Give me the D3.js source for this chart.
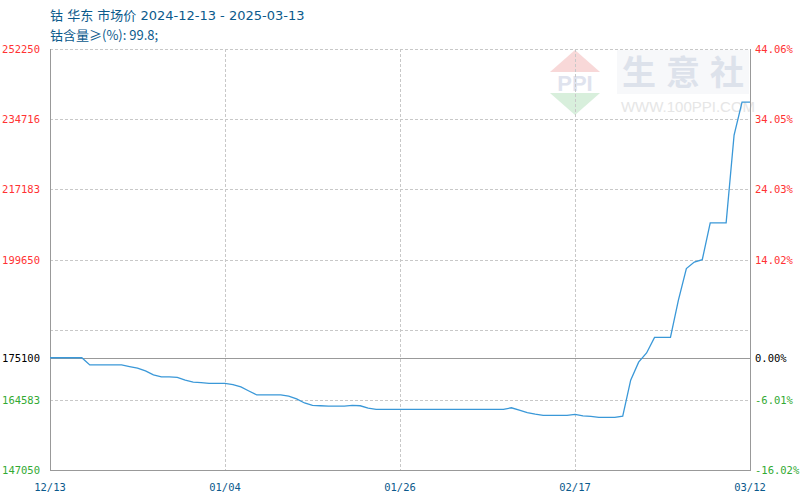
<!DOCTYPE html>
<html>
<head>
<meta charset="utf-8">
<script src="https://cdn.jsdelivr.net/npm/d3@7"></script>
<style>
  html, body { margin: 0; padding: 0; background: #fff; }
  svg { display: block; }
</style>
</head>
<body>
<svg id="chart" width="800" height="500"></svg>
<script>
// ---- data ----
const titleLine1 = "钴 华东 市场价 2024-12-13 - 2025-03-13";
const titleLine2 = "钴含量≥(%): 99.8;";
const baseValue = 175100;
const xTickLabels = ["12/13", "01/04", "01/26", "02/17", "03/12"];
const xTickIndex = [0, 22, 44, 66, 88];
const yTicks = [147050, 164583, 182117, 199650, 217183, 234716, 252250];
const hiddenYTicks = [182117];
const prices = [
  175100, 175100, 175100, 175100, 175100, 173300, 173300, 173300, 173300, 173300,
  172900, 172500, 171800, 170800, 170300, 170300, 170200, 169500, 169000, 168900,
  168700, 168700, 168700, 168400, 167800, 166800, 165800, 165800, 165800, 165800,
  165500, 164800, 163800, 163200, 163100, 163000, 163000, 163000, 163200, 163100,
  162500, 162200, 162200, 162200, 162200, 162200, 162200, 162200, 162200, 162200,
  162200, 162200, 162200, 162200, 162200, 162200, 162200, 162200, 162600, 162000,
  161400, 161000, 160700, 160700, 160700, 160700, 160950, 160600, 160450, 160200,
  160200, 160200, 160500, 169500, 174000, 176300, 180200, 180200, 180200, 189500,
  197400, 199000, 199600, 208800, 208800, 208800, 230750, 239000, 239000
];

// ---- layout ----
const svg = d3.select("#chart");
const pLeft = 50, pRight = 750, pTop = 49, pBottom = 470;

const x = d3.scaleLinear().domain([0, prices.length - 1]).range([pLeft, pRight]);
const y = d3.scaleLinear().domain([yTicks[0], yTicks[yTicks.length - 1]]).range([pBottom, pTop]);

const monoFont = "'DejaVu Sans Mono', monospace";
const red = "#ff3333", green = "#33aa33", blue = "#0b5a8c";

// ---- watermark ----
const wm = svg.append("g");
wm.append("rect").attr("x", 617).attr("y", 50).attr("width", 132).attr("height", 44).attr("fill", "#f7f8fa");
wm.append("path").attr("d", "M550,72 L575,50 L600,72 Z").attr("fill", "#f8d8d8");
wm.append("path").attr("d", "M550,93 L600,93 L575,115 Z").attr("fill", "#d8efdc");
wm.append("text").attr("x", 575).attr("y", 91).attr("text-anchor", "middle")
  .attr("font-family", "'Liberation Sans', Arial, sans-serif").attr("font-weight", "bold").attr("font-size", 22)
  .attr("fill", "#dfe3ee").text("PPI");
wm.append("text").attr("x", 688).attr("y", 85).attr("text-anchor", "middle")
  .attr("font-family", "'Noto Sans CJK SC', sans-serif").attr("font-weight", "bold").attr("font-size", 34)
  .attr("letter-spacing", 10).attr("fill", "#dde2eb").text("生意社");
wm.append("text").attr("x", 688).attr("y", 112).attr("text-anchor", "middle")
  .attr("font-family", "'Liberation Sans', Arial, sans-serif").attr("font-size", 15)
  .attr("fill", "#e6e6e6").text("WWW.100PPI.COM");

// ---- grid ----
const grid = svg.append("g").attr("stroke", "#c8c8c8").attr("stroke-dasharray", "3,2").attr("shape-rendering", "crispEdges");
yTicks.filter(v => v !== yTicks[0]).forEach(v => {
  grid.append("line").attr("x1", pLeft).attr("x2", pRight).attr("y1", Math.round(y(v)) + 0.5).attr("y2", Math.round(y(v)) + 0.5);
});
xTickIndex.slice(1, -1).forEach(i => {
  grid.append("line").attr("x1", Math.round(x(i)) + 0.5).attr("x2", Math.round(x(i)) + 0.5).attr("y1", pTop).attr("y2", pBottom);
});

// ---- axes frame ----
const frame = svg.append("g").attr("stroke", "#999").attr("shape-rendering", "crispEdges");
frame.append("line").attr("x1", pLeft + 0.5).attr("x2", pLeft + 0.5).attr("y1", pTop).attr("y2", pBottom + 1);
frame.append("line").attr("x1", pRight + 0.5).attr("x2", pRight + 0.5).attr("y1", pTop).attr("y2", pBottom + 1);
frame.append("line").attr("x1", pLeft).attr("x2", pRight + 1).attr("y1", pBottom + 0.5).attr("y2", pBottom + 0.5);
frame.append("line").attr("x1", pLeft).attr("x2", pRight).attr("y1", Math.round(y(baseValue)) + 0.5).attr("y2", Math.round(y(baseValue)) + 0.5);

// ---- y labels ----
const labelVals = yTicks.filter(v => !hiddenYTicks.includes(v)).concat([baseValue]);
const colorFor = v => v > baseValue ? red : (v < baseValue ? green : "#000");
svg.append("g").selectAll("text").data(labelVals).join("text")
  .attr("x", 40).attr("y", v => y(v) + 4).attr("text-anchor", "end")
  .attr("font-family", monoFont).attr("font-size", 10.5)
  .attr("fill", colorFor).text(v => v);
svg.append("g").selectAll("text").data(labelVals).join("text")
  .attr("x", 755).attr("y", v => y(v) + 4).attr("text-anchor", "start")
  .attr("font-family", monoFont).attr("font-size", 10.5)
  .attr("fill", colorFor).text(v => ((v - baseValue) / baseValue * 100).toFixed(2) + "%");

// ---- x labels ----
svg.append("g").selectAll("text").data(xTickIndex).join("text")
  .attr("x", i => x(i)).attr("y", 491).attr("text-anchor", "middle")
  .attr("font-family", monoFont).attr("font-size", 10.5)
  .attr("fill", blue).text((d, k) => xTickLabels[k]);

// ---- line ----
const line = d3.line().x((d, i) => x(i)).y(d => y(d));
svg.append("path").datum(prices).attr("d", line)
  .attr("fill", "none").attr("stroke", "#3a98d8").attr("stroke-width", 1.3);

// ---- title ----
svg.append("text").attr("x", 50).attr("y", 20)
  .attr("font-family", "'DejaVu Sans', 'Noto Sans CJK SC', sans-serif").attr("font-size", 13)
  .attr("fill", blue).text(titleLine1);
svg.append("text").attr("x", 50).attr("y", 40)
  .attr("font-family", "'Noto Sans CJK SC', sans-serif").attr("font-size", 13)
  .attr("fill", blue).text(titleLine2);
</script>
</body>
</html>
